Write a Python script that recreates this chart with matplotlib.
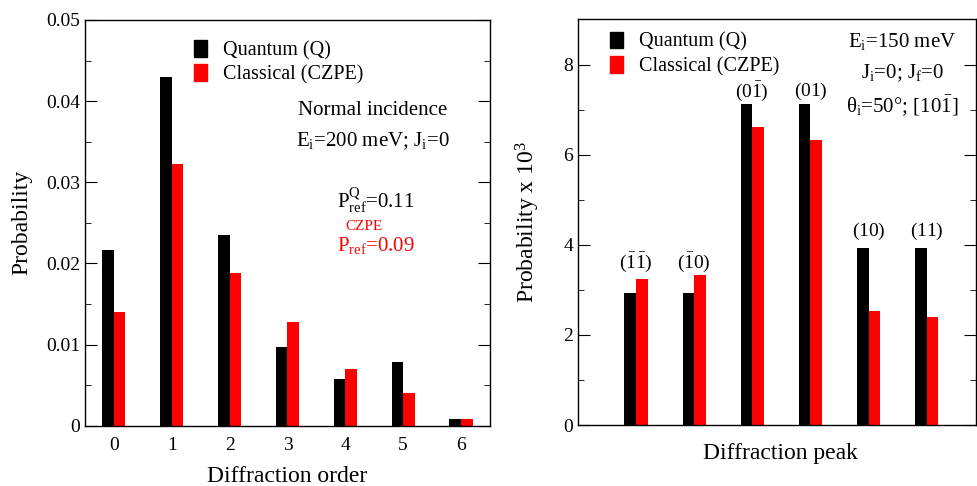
import matplotlib
matplotlib.use("Agg")
import matplotlib.pyplot as plt
import numpy as np
from matplotlib.patches import Patch
from matplotlib.ticker import MultipleLocator, FuncFormatter

plt.rcParams['font.family'] = ['Liberation Serif', 'DejaVu Serif']
plt.rcParams['mathtext.fontset'] = 'custom'
plt.rcParams['mathtext.rm'] = 'Liberation Serif'
plt.rcParams['mathtext.it'] = 'Liberation Serif:italic'

# Left panel: normal incidence
orders = [0, 1, 2, 3, 4, 5, 6]
quantum_left = [0.0216, 0.0430, 0.0235, 0.0097, 0.0058, 0.0078, 0.0008]
classical_left = [0.0140, 0.0322, 0.0188, 0.0128, 0.0070, 0.0040, 0.0008]

# Right panel: diffraction peaks (x 10^3)
peaks = [1, 2, 3, 4, 5, 6]
peak_labels = [r'$(\bar{1}\bar{1})$', r'$(\bar{1}0)$', r'$(0\bar{1})$',
               r'$(01)$', r'$(10)$', r'$(11)$']
peak_label_y = [3.6, 3.6, 7.4, 7.4, 4.3, 4.3]
quantum_right = [2.93, 2.93, 7.12, 7.12, 3.92, 3.92]
classical_right = [3.23, 3.33, 6.61, 6.33, 2.52, 2.39]

BLACK = 'black'
RED = '#ff0000'
w = 0.2


def left_fmt(v, pos):
    if abs(v) < 1e-9:
        return '0'
    return '%.2f' % v


fig = plt.figure(figsize=(9.77, 4.86), dpi=100)
ax1 = fig.add_axes([0.087, 0.124, 0.4145, 0.835])
ax2 = fig.add_axes([0.5916, 0.1255, 0.4074, 0.8345])

# ---- left panel
x = np.array(orders)
ax1.bar(x - w / 2, quantum_left, w, color=BLACK)
ax1.bar(x + w / 2, classical_left, w, color=RED)
ax1.set_xlim(-0.5, 6.5)
ax1.set_ylim(0, 0.05)
ax1.set_xticks(orders)
ax1.yaxis.set_major_locator(MultipleLocator(0.01))
ax1.yaxis.set_minor_locator(MultipleLocator(0.005))
ax1.yaxis.set_major_formatter(FuncFormatter(left_fmt))
ax1.tick_params(axis='y', which='both', direction='in', left=True, right=True, labelsize=14)
ax1.tick_params(axis='y', which='major', length=8.5)
ax1.tick_params(axis='y', which='minor', length=4.3)
ax1.tick_params(axis='x', length=0, labelsize=14, pad=8)
ax1.set_xlabel('Diffraction order', fontsize=17)
ax1.set_ylabel('Probability', fontsize=17)
ax1.xaxis.set_label_coords(0.499, -0.1)
ax1.yaxis.set_label_coords(-0.13, 0.5)

handles = [Patch(color=BLACK), Patch(color=RED)]
ax1.legend(handles, ['Quantum (Q)', 'Classical (CZPE)'], frameon=False,
           loc='upper left', bbox_to_anchor=(0.245, 0.975), fontsize=14.5,
           handlelength=0.65, handleheight=0.9, handletextpad=0.8,
           borderpad=0, labelspacing=0.2)

ax1.text(0.71, 0.778, 'Normal incidence', transform=ax1.transAxes,
         ha='center', va='center', fontsize=15)
ax1.text(0.71, 0.70, r'E$_\mathrm{i}$=200 meV; J$_\mathrm{i}$=0', transform=ax1.transAxes,
         ha='center', va='center', fontsize=15)
ax1.text(0.623, 0.555, r'P$^{\mathrm{Q}}_{\mathrm{ref}}$=0.11', transform=ax1.transAxes,
         ha='left', va='center', fontsize=15)
ax1.text(0.643, 0.492, 'CZPE', transform=ax1.transAxes, color=RED,
         ha='left', va='center', fontsize=11)
ax1.text(0.623, 0.445, r'P$_{\mathrm{ref}}$=0.09', transform=ax1.transAxes, color=RED,
         ha='left', va='center', fontsize=15)

# ---- right panel
xp = np.array(peaks)
ax2.bar(xp - w / 2, quantum_right, w, color=BLACK)
ax2.bar(xp + w / 2, classical_right, w, color=RED)
for xi, yi, lab in zip(peaks, peak_label_y, peak_labels):
    ax2.text(xi, yi, lab, ha='center', va='center', fontsize=14)
ax2.set_xlim(0, 6.85)
ax2.set_ylim(0, 9)
ax2.set_xticks([])
ax2.yaxis.set_major_locator(MultipleLocator(2))
ax2.yaxis.set_minor_locator(MultipleLocator(1))
ax2.tick_params(axis='y', which='both', direction='in', left=True, right=True, labelsize=14)
ax2.tick_params(axis='y', which='major', length=8.5)
ax2.tick_params(axis='y', which='minor', length=4.3)
ax2.set_xlabel('Diffraction peak', fontsize=17)
ax2.set_ylabel(r'Probability x 10$^3$', fontsize=17)
ax2.xaxis.set_label_coords(0.509, -0.044)
ax2.yaxis.set_label_coords(-0.09, 0.5)

ax2.legend(handles, ['Quantum (Q)', 'Classical (CZPE)'], frameon=False,
           loc='upper left', bbox_to_anchor=(0.055, 0.995), fontsize=14.5,
           handlelength=0.65, handleheight=0.9, handletextpad=0.8,
           borderpad=0, labelspacing=0.2)

ax2.text(0.815, 0.945, r'E$_\mathrm{i}$=150 meV', transform=ax2.transAxes,
         ha='center', va='center', fontsize=15)
ax2.text(0.815, 0.868, r'J$_\mathrm{i}$=0; J$_\mathrm{f}$=0', transform=ax2.transAxes,
         ha='center', va='center', fontsize=15)
ax2.text(0.815, 0.785, r'θ$_\mathrm{i}$=50°; [10$\bar{1}$]', transform=ax2.transAxes,
         ha='center', va='center', fontsize=15)

for ax in (ax1, ax2):
    for s in ax.spines.values():
        s.set_linewidth(1.0)

fig.savefig('out.png', dpi=100)
